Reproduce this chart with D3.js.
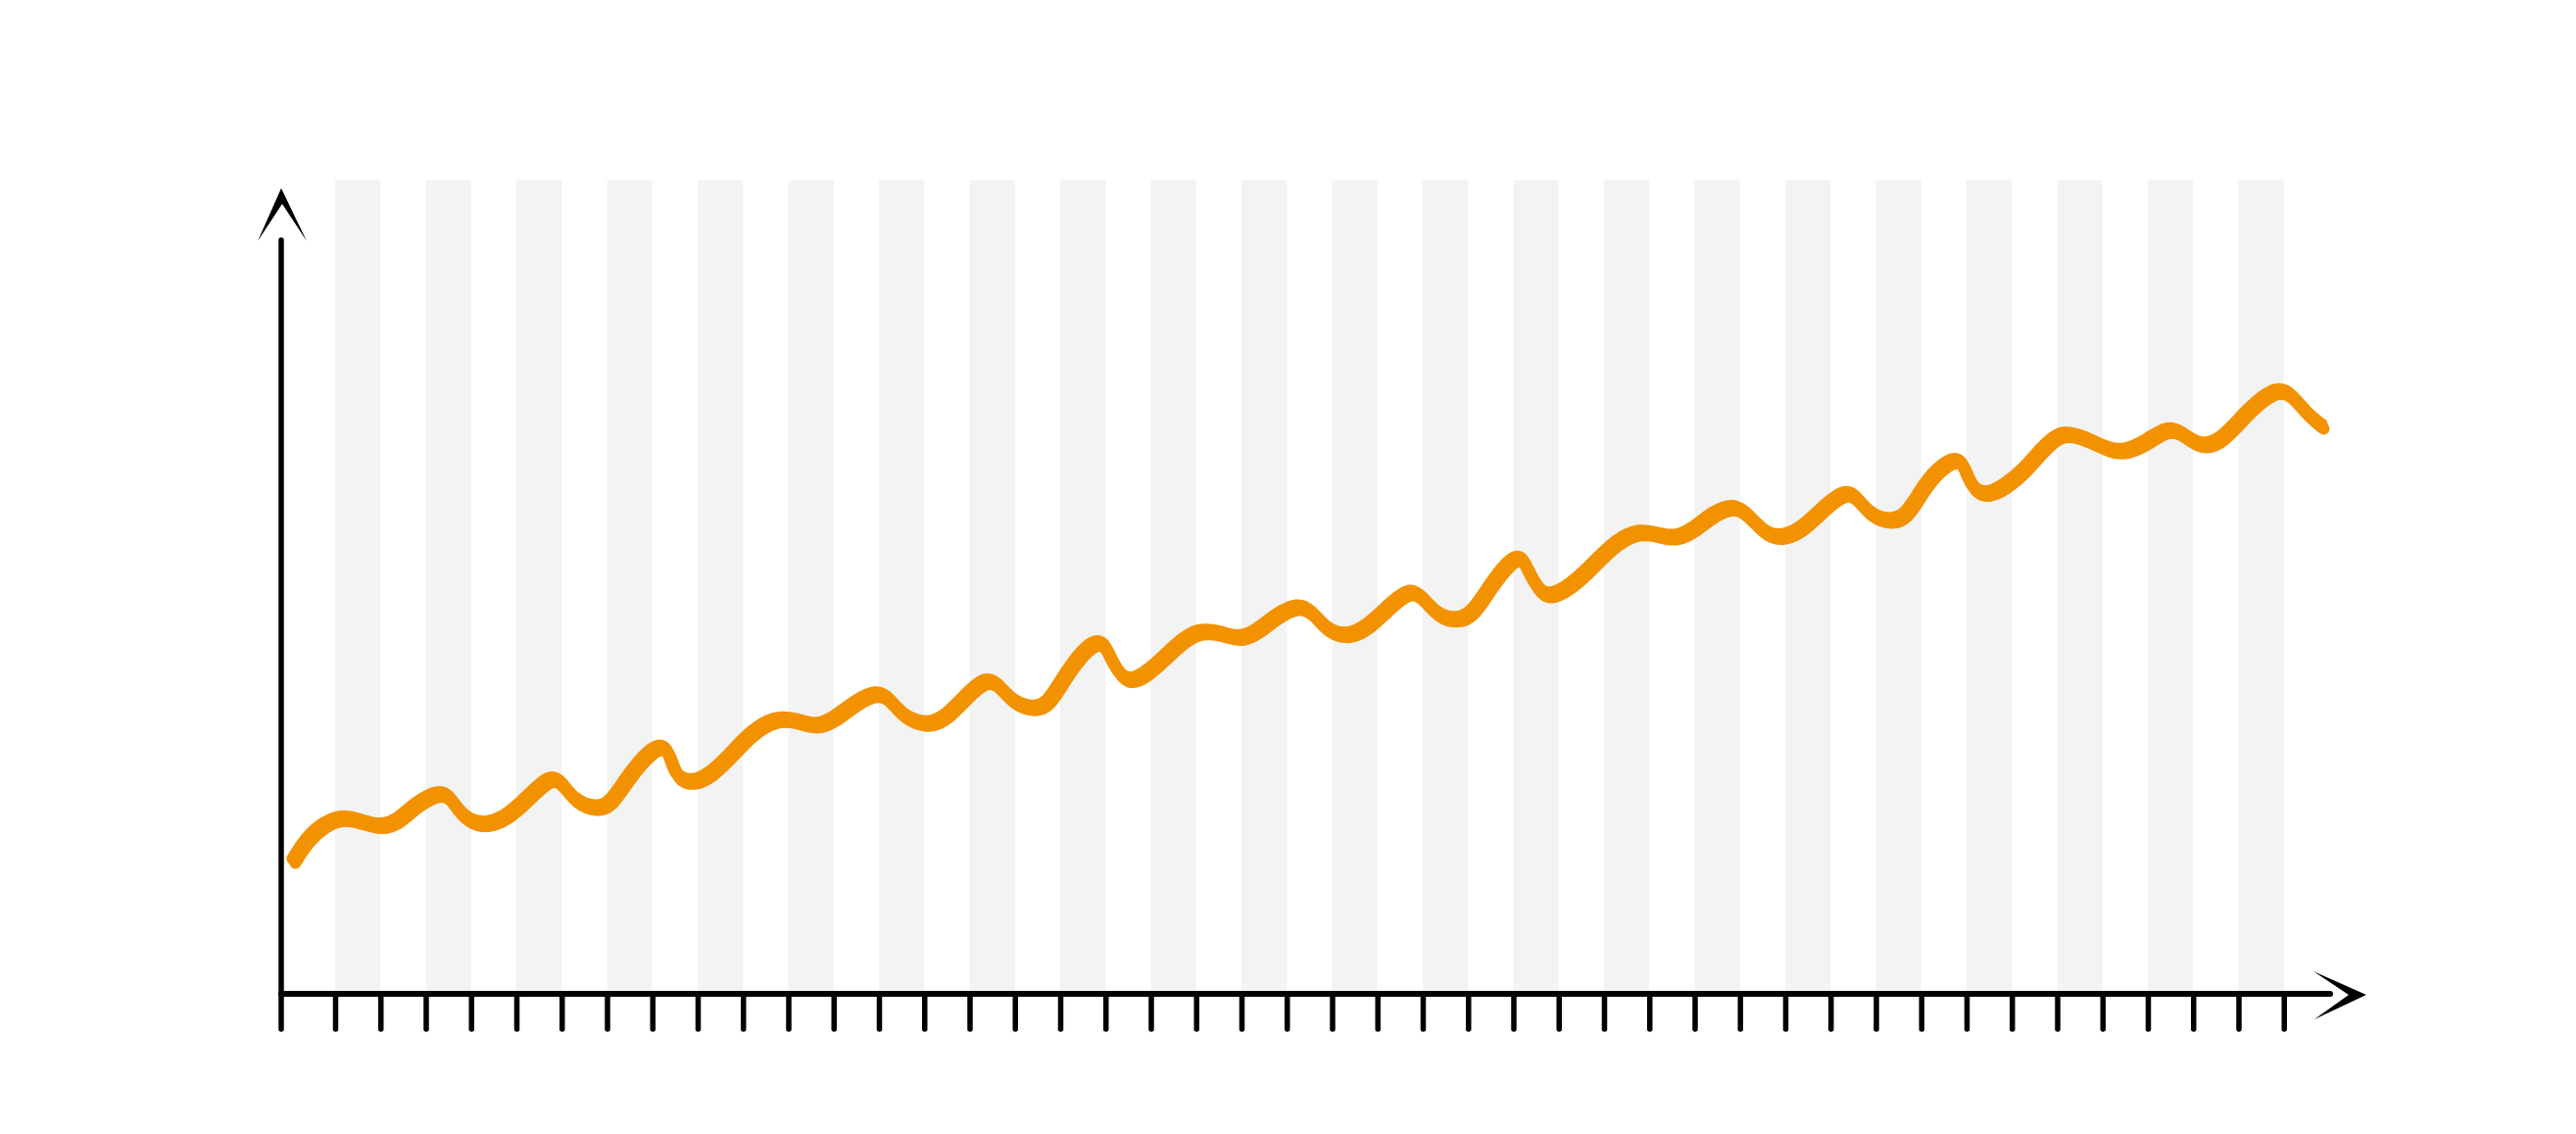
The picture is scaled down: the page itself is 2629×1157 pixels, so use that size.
<!DOCTYPE html>
<html>
<head>
<meta charset="utf-8">
<script src="https://cdn.jsdelivr.net/npm/d3@7"></script>
<style>
  html, body { margin: 0; padding: 0; background: #ffffff; }
  svg { display: block; }
</style>
</head>
<body>
<svg id="chart" width="2629" height="1157"></svg>
<script>
// ---- data (x in tick units, y in value units 0..100) ----
const steps = [
  0.09, 0.38, 0.74, 1.14, 1.53, 2.00, 2.40, 2.76, 3.26, 3.51, 3.73, 3.98, 4.34, 4.78, 5.28, 5.75,
  6.00, 6.29, 6.76, 7.08, 7.51, 7.95, 8.24, 8.42, 8.52, 8.89, 9.32, 9.75, 10.18, 10.69, 11.19, 11.62,
  12.05, 12.49, 12.96, 13.24, 13.50, 14.00, 14.43, 14.87, 15.37, 15.66, 15.95, 16.38, 16.74, 17.10,
  17.61, 17.97, 18.15, 18.47, 18.90, 19.26, 19.62, 20.05, 20.49, 20.96, 21.35, 21.78, 22.25, 22.58,
  22.87, 23.34, 23.80, 24.31, 24.74, 25.03, 25.32, 25.75, 26.11, 26.47, 26.90, 27.19, 27.37, 27.62,
  27.87, 28.27, 28.70, 29.14, 29.68, 30.15, 30.58, 31.01, 31.44, 31.91, 32.23, 32.60, 32.96, 33.39,
  33.89, 34.36, 34.61, 34.90, 35.30, 35.66, 35.98, 36.34, 36.81, 36.99, 37.14, 37.46, 37.86, 38.29,
  38.65, 39.08, 39.59, 40.16, 40.52, 41.03, 41.43, 41.75, 42.15, 42.62, 43.19, 43.88, 44.24, 44.56, 44.85
];
const values = [
  17.66, 20.43, 22.38, 23.47, 22.95, 21.95, 22.82, 24.97, 26.71, 26.27, 24.12, 22.82, 22.30, 23.25, 26.06, 28.87,
  28.01, 25.42, 24.42, 24.97, 29.09, 32.12, 32.99, 31.26, 28.66, 27.79, 29.09, 31.69, 34.51, 36.53, 36.23, 35.23,
  36.45, 38.61, 40.04, 39.05, 36.88, 35.49, 36.23, 39.05, 41.95, 40.78, 38.61, 37.66, 38.18, 42.08,
  46.19, 46.84, 43.81, 41.00, 42.30, 44.25, 46.40, 48.14, 47.92, 46.84, 47.92, 50.09, 51.60, 50.52,
  48.14, 47.18, 48.57, 51.60, 53.68, 52.25, 50.09, 49.35, 50.30, 53.77, 57.23, 58.09, 55.49, 52.90,
  52.69, 53.99, 56.36, 59.18, 61.34, 60.91, 60.17, 61.56, 63.73, 64.81, 63.08, 60.69, 60.39, 61.56,
  64.58, 66.75, 65.45, 63.29, 62.51, 63.08, 66.36, 69.35, 71.21, 69.35, 66.75, 65.97, 67.18, 69.35,
  71.95, 74.55, 73.68, 71.95, 71.73, 73.25, 74.97, 74.32, 72.38, 73.03, 77.14, 80.61, 78.87, 76.49, 75.19
];
const tickValues = d3.range(1, 45);          // 44 ticks on the x axis
const bandStarts = d3.range(1, 44, 2);       // 22 shaded bands, tick 2k+1 -> 2k+2
const xDomain = [0, 44];
const yDomain = [0, 100];

// ---- layout ----
const axisX = 287;
const bandTop = 184;
const tickLen = 36;
const orange = "#f39200";

const svg = d3.select("#chart");

const x = d3.scaleLinear().domain(xDomain).range([295.75, 2330.75]);
const y = d3.scaleLinear().domain(yDomain).range([1014, 244]);
const y0 = y(0);

// shaded bands
svg.append("g").selectAll("rect")
  .data(bandStarts)
  .join("rect")
  .attr("x", d => x(d))
  .attr("y", bandTop)
  .attr("width", d => x(d + 1) - x(d))
  .attr("height", y0 - bandTop)
  .attr("fill", "#f3f3f3");

// line (hand-drawn double stroke)
const line = d3.line()
  .x((d, i) => x(steps[i]))
  .y((d, i) => y(values[i]))
  .curve(d3.curveBasis);

const lg = svg.append("g")
  .attr("fill", "none")
  .attr("stroke", orange)
  .attr("stroke-linecap", "round")
  .attr("stroke-linejoin", "round");
lg.append("path")
  .attr("d", line(values))
  .attr("stroke-width", 13)
  .attr("transform", "translate(-1,-2)");
lg.append("path")
  .attr("d", line(values))
  .attr("stroke-width", 12)
  .attr("transform", "translate(1.5,2.5)");

// axes
const ag = svg.append("g").attr("stroke", "#000").attr("stroke-linecap", "round").attr("fill", "none");
ag.append("line")
  .attr("x1", axisX).attr("x2", axisX)
  .attr("y1", y(100) + 1).attr("y2", y0 + tickLen)
  .attr("stroke-width", 5.5);
ag.append("line")
  .attr("x1", axisX).attr("x2", 2378)
  .attr("y1", y0).attr("y2", y0)
  .attr("stroke-width", 6);
const xAxis = d3.axisBottom(x).tickValues(tickValues).tickSize(tickLen).tickFormat("");
const axG = svg.append("g").attr("transform", `translate(0,${y0})`).call(xAxis);
axG.select(".domain").remove();
axG.selectAll(".tick line")
  .attr("stroke", "#000")
  .attr("stroke-width", 5.5)
  .attr("stroke-linecap", "round");

// arrow heads (brush-like chevrons)
const yTop = y(100);
svg.append("path")
  .attr("d", `M${axisX - 24},${yTop + 2} L${axisX},${yTop - 52} L${axisX + 26},${yTop + 2} L${axisX + 1},${yTop - 36} Z`)
  .attr("fill", "#000");
svg.append("path")
  .attr("d", `M2361,${y0 - 23} L2415,${y0 + 1} L2362,${y0 + 26} L2397,${y0 + 1} Z`)
  .attr("fill", "#000");
</script>
</body>
</html>
